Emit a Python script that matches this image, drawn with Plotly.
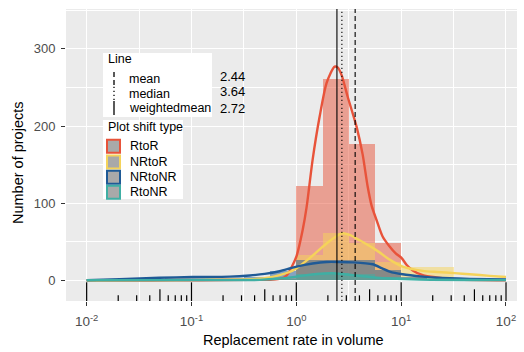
import numpy as np
import plotly.graph_objects as go

# ---------------- data ----------------
groups = ["RtoR", "NRtoR", "NRtoNR", "RtoNR"]
colors = ["#E8533A", "#F5D35A", "#1F5A96", "#3FAFA4"]

# histogram bins (log10 of replacement rate), width 0.25
bin_left = [-1.5, -1.25, -1.0, -0.75, -0.5, -0.25, 0.0, 0.25, 0.5, 0.75, 1.0, 1.25, 1.5, 1.75]
bin_width = 0.25
hist_RtoR = [0, 0, 0, 0, 1, 2, 122, 261, 177, 48, 3, 1, 1, 0]
hist_NRtoR = [0, 0, 0, 0, 1, 3, 33, 62, 49, 24, 18, 17, 3, 0]
hist_NRtoNR = [2, 3, 3, 3, 4, 12, 27, 27, 27, 13, 5, 2, 1, 0]
hist_RtoNR = [0, 0, 0, 0, 0, 2, 8, 10, 9, 4, 1, 0, 0, 0]

# density curves (scaled to counts), x in log10
dens_RtoR_x = [-2.0, -1.4, -0.92, -0.445, -0.255, -0.16, -0.112, -0.073, -0.035, 0.003, 0.06, 0.098,
               0.155, 0.222, 0.289, 0.365, 0.394, 0.432, 0.49, 0.575, 0.633, 0.68, 0.718, 0.766,
               0.823, 0.89, 0.948, 1.005, 1.053, 1.11, 1.206, 1.339, 1.51, 1.749, 2.0]
dens_RtoR_y = [0, 0, 0.3, 0.8, 1, 2, 4, 10, 20, 32, 65, 95,
               156, 212, 256, 277, 276, 266, 238, 199, 163, 122, 97, 78,
               57, 44, 35, 29, 20, 13, 7, 4, 1.5, 0.5, 0.2]

dens_NRtoR_x = [-2.0, -1.4, -0.92, -0.445, -0.255, -0.16, -0.064, 0.003, 0.127, 0.289, 0.432, 0.509,
                0.604, 0.766, 0.89, 1.014, 1.206, 1.339, 1.51, 1.654, 1.845, 2.0]
dens_NRtoR_y = [0.3, 0.5, 0.8, 1.5, 4, 7, 11, 16, 29, 48, 61, 59,
                52, 39, 27, 18, 12.5, 11, 9.5, 8, 6, 4.5]

dens_NRtoNR_x = [-2.0, -1.685, -1.304, -0.99, -0.636, -0.445, -0.302, -0.16, -0.064, 0.003, 0.155, 0.289,
                 0.413, 0.537, 0.728, 0.814, 0.89, 1.014, 1.206, 1.339, 1.654, 2.0]
dens_NRtoNR_y = [0.5, 1.5, 3.5, 4.5, 5, 6.5, 8.5, 12, 15.5, 18, 22, 24,
                 24, 23.5, 21, 16, 11.5, 8, 5, 3.5, 2, 1.2]

dens_RtoNR_x = [-2.0, -0.92, -0.35, -0.16, 0.003, 0.194, 0.346, 0.537, 0.766, 0.89, 1.177, 2.0]
dens_RtoNR_y = [0.3, 0.5, 0.8, 2.5, 5, 8.4, 9.3, 7, 3.6, 2.5, 1.2, 0.5]

# reference lines
line_names = ["mean", "median", "weightedmean"]
line_values = [3.64, 2.72, 2.44]
line_dash = ["5px,3px", "1.2px,2.8px", "solid"]
line_labels = ["2.44", "3.64", "2.72"]

x_tick_vals = [-2, -1, 0, 1, 2]
x_tick_text = ["10<sup>-2</sup>", "10<sup>-1</sup>", "10<sup>0</sup>", "10<sup>1</sup>", "10<sup>2</sup>"]
y_tick_vals = [0, 100, 200, 300]

# ---------------- layout helpers ----------------
W, H = 524, 352
PL, PR, PT, PB = 66, 517, 9, 301


def px(x):
    return (x - PL) / (PR - PL)


def py(y):
    return (PB - y) / (PB - PT)


def rgba(hex_c, a):
    h = hex_c.lstrip("#")
    r, g, b = int(h[0:2], 16), int(h[2:4], 16), int(h[4:6], 16)
    return f"rgba({r},{g},{b},{a})"


FONT = "Liberation Sans, Arial, Helvetica, sans-serif"

fig = go.Figure()

centers = [b + bin_width / 2 for b in bin_left]
hists = [hist_RtoR, hist_NRtoR, hist_NRtoNR, hist_RtoNR]
for g, c, h in zip(groups, colors, hists):
    fig.add_trace(go.Bar(x=centers, y=h, width=bin_width, marker=dict(color=rgba(c, 0.5), line=dict(width=0)),
                         name=g, showlegend=False, hoverinfo="skip"))

dens = [(dens_RtoR_x, dens_RtoR_y), (dens_NRtoR_x, dens_NRtoR_y),
        (dens_NRtoNR_x, dens_NRtoNR_y), (dens_RtoNR_x, dens_RtoNR_y)]
for g, c, (dx, dy) in zip(groups, colors, dens):
    fig.add_trace(go.Scatter(x=dx, y=dy, mode="lines", line=dict(color=c, width=2.4, shape="spline", smoothing=0.7),
                             name=g, showlegend=False, hoverinfo="skip"))

shapes = []
# vertical reference lines
for v, d in zip(line_values, line_dash):
    shapes.append(dict(type="line", xref="x", yref="paper", x0=np.log10(v), x1=np.log10(v), y0=0, y1=1,
                       line=dict(color="black", width=1.1, dash=d)))

# log ticks (annotation_logticks, bottom)
for dec in range(-2, 2):
    for k in range(1, 10):
        xv = dec + np.log10(k)
        if k == 1:
            L = 18.7
        elif k == 5:
            L = 11.7
        else:
            L = 5.7
        shapes.append(dict(type="line", xref="x", yref="paper", x0=xv, x1=xv, y0=0, y1=L / (PB - PT),
                           line=dict(color="black", width=1.2)))
shapes.append(dict(type="line", xref="x", yref="paper", x0=2, x1=2, y0=0, y1=18.7 / (PB - PT),
                   line=dict(color="black", width=1.2)))

# legend boxes
shapes.append(dict(type="rect", xref="paper", yref="paper", x0=px(103), x1=px(212), y0=py(117), y1=py(53),
                   fillcolor="white", line=dict(width=0), layer="above"))
shapes.append(dict(type="rect", xref="paper", yref="paper", x0=px(103), x1=px(183), y0=py(199), y1=py(120),
                   fillcolor="white", line=dict(width=0), layer="above"))

annotations = []
annotations.append(dict(xref="paper", yref="paper", x=px(106), y=py(59), text="Line", showarrow=False,
                        xanchor="left", yanchor="middle", font=dict(family=FONT, size=12.5, color="black")))
key_y = [78, 93, 108]
num_y = [76, 91, 108]
for i, (nm, d) in enumerate(zip(line_names, line_dash)):
    yc = key_y[i]
    shapes.append(dict(type="line", xref="paper", yref="paper", x0=px(114), x1=px(114), y0=py(yc + 7), y1=py(yc - 7),
                       line=dict(color="black", width=1.3, dash=d), layer="above"))
    annotations.append(dict(xref="paper", yref="paper", x=px(127), y=py(yc + 0.5), text=nm, showarrow=False,
                            xanchor="left", yanchor="middle", font=dict(family=FONT, size=12.5, color="black")))
    annotations.append(dict(xref="paper", yref="paper", x=px(218), y=py(num_y[i]), text=line_labels[i], showarrow=False,
                            xanchor="left", yanchor="middle", font=dict(family=FONT, size=13, color="black")))

annotations.append(dict(xref="paper", yref="paper", x=px(106), y=py(127), text="Plot shift type", showarrow=False,
                        xanchor="left", yanchor="middle", font=dict(family=FONT, size=12.5, color="black")))
sq_y = [146.3, 162, 177.2, 192.3]
for i, (g, c) in enumerate(zip(groups, colors)):
    yc = sq_y[i]
    shapes.append(dict(type="rect", xref="paper", yref="paper", x0=px(107), x1=px(120), y0=py(yc + 6.5), y1=py(yc - 6.5),
                       fillcolor="#A9A9A9", line=dict(color=c, width=2), layer="above"))
    annotations.append(dict(xref="paper", yref="paper", x=px(128), y=py(yc), text=g, showarrow=False,
                            xanchor="left", yanchor="middle", font=dict(family=FONT, size=12.5, color="black")))

# axis titles
annotations.append(dict(xref="paper", yref="paper", x=px(293), y=py(340), text="Replacement rate in volume",
                        showarrow=False, xanchor="center", yanchor="middle",
                        font=dict(family=FONT, size=14.5, color="black")))
annotations.append(dict(xref="paper", yref="paper", x=px(18), y=py(163), text="Number of projects",
                        showarrow=False, xanchor="center", yanchor="middle", textangle=-90,
                        font=dict(family=FONT, size=14.5, color="black")))

fig.update_layout(
    width=W, height=H,
    margin=dict(l=PL, r=W - PR, t=PT, b=H - PB, pad=0),
    paper_bgcolor="white", plot_bgcolor="#EBEBEB",
    barmode="overlay", bargap=0,
    showlegend=False,
    shapes=shapes, annotations=annotations,
    font=dict(family=FONT),
    xaxis=dict(range=[-2.197, 2.105], tickvals=x_tick_vals, ticktext=x_tick_text,
               showgrid=True, gridcolor="white", gridwidth=1.1, zeroline=False,
               ticks="outside", ticklen=4, tickwidth=1.1, tickcolor="#333333",
               ticklabelstandoff=4,
               tickfont=dict(family=FONT, size=13.5, color="#4D4D4D"),
               minor=dict(tickvals=[-1.5, -0.5, 0.5, 1.5], showgrid=True, gridcolor="white", gridwidth=0.55, ticklen=0),
               automargin=False, fixedrange=True),
    yaxis=dict(range=[-26.6, 351.7], tickvals=y_tick_vals,
               showgrid=True, gridcolor="white", gridwidth=1.1, zeroline=False,
               ticks="outside", ticklen=4, tickwidth=1.1, tickcolor="#333333",
               ticklabelstandoff=3,
               tickfont=dict(family=FONT, size=13, color="#4D4D4D"),
               minor=dict(tickvals=[50, 150, 250, 350], showgrid=True, gridcolor="white", gridwidth=0.55, ticklen=0),
               automargin=False, fixedrange=True),
)

fig.write_html("out.html", config={"displayModeBar": False},
               post_script="document.body.style.margin='0';document.body.style.padding='0';")
